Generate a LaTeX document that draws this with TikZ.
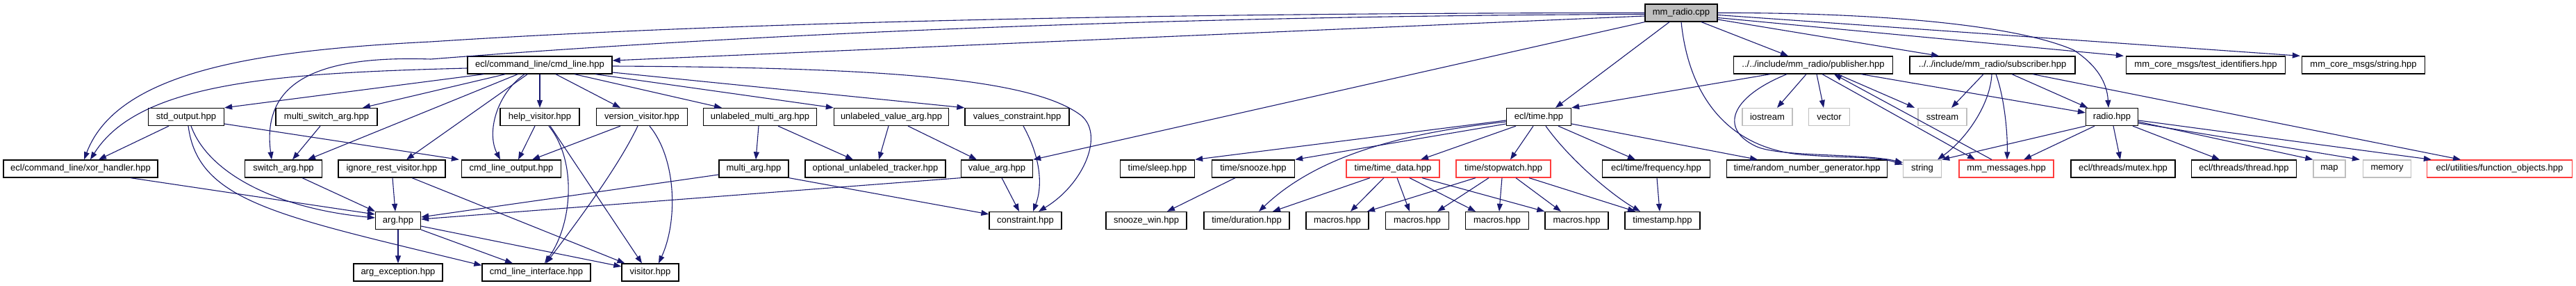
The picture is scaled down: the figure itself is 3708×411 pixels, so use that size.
\documentclass[tikz,border=0pt]{standalone}
\usepackage{fontspec}
\setmainfont{Liberation Sans}
\usetikzlibrary{arrows.meta,calc}
\definecolor{edgecol}{RGB}{25,25,112}
\definecolor{grayb}{RGB}{191,191,191}
\definecolor{redb}{RGB}{255,60,60}
\begin{document}
\begin{tikzpicture}[x=1pt,y=-1pt,
  base/.style={rectangle, line width=1.3pt, minimum height=25pt, inner sep=0pt, font=\fontsize{13}{15}\selectfont},
  box/.style={base, draw=black},
  sysbox/.style={base, draw=grayb},
  redbox/.style={base, draw=redb},
  rootbox/.style={base, draw=black, fill=grayb},
  edge/.style={draw=edgecol, line width=1.1pt, -{Triangle[length=11pt,width=8pt]}}]
\fill[white] (0,0) rectangle (3708,411);
\useasboundingbox (0,0) rectangle (3708,411);
% row 0
\node[rootbox, minimum width=104pt] (mmradio) at (2420,18.5) {mm\_radio.cpp};
% row 1
\node[box, minimum width=208pt] (cmdline) at (777,93.5) {ecl/command\_line/cmd\_line.hpp};
\node[box, minimum width=229pt] (publisher) at (2610,93.5) {../../include/mm\_radio/publisher.hpp};
\node[box, minimum width=238pt] (subscriber) at (2868,93.5) {../../include/mm\_radio/subscriber.hpp};
\node[box, minimum width=229pt] (testid) at (3175,93.5) {mm\_core\_msgs/test\_identifiers.hpp};
\node[box, minimum width=177pt] (mcstring) at (3402,93.5) {mm\_core\_msgs/string.hpp};
% row 2
\node[box, minimum width=109pt] (stdout) at (268,168) {std\_output.hpp};
\node[box, minimum width=146pt] (multiswitch) at (470,168) {multi\_switch\_arg.hpp};
\node[box, minimum width=114pt] (help) at (777,168) {help\_visitor.hpp};
\node[box, minimum width=131pt] (version) at (924,168) {version\_visitor.hpp};
\node[box, minimum width=163pt] (ulmulti) at (1094,168) {unlabeled\_multi\_arg.hpp};
\node[box, minimum width=165pt] (ulvalue) at (1283,168) {unlabeled\_value\_arg.hpp};
\node[box, minimum width=150pt] (valcons) at (1464,168) {values\_constraint.hpp};
\node[box, minimum width=93pt] (ecltime) at (2215,168) {ecl/time.hpp};
\node[sysbox, minimum width=72pt] (iostream) at (2544,168) {iostream};
\node[sysbox, minimum width=59pt] (vector) at (2633,168) {vector};
\node[sysbox, minimum width=70pt] (sstream) at (2796,168) {sstream};
\node[box, minimum width=75pt] (radio) at (3040,168) {radio.hpp};
% row 3
\node[box, minimum width=222pt] (xor) at (116,242.5) {ecl/command\_line/xor\_handler.hpp};
\node[box, minimum width=111pt] (switch) at (408,242.5) {switch\_arg.hpp};
\node[box, minimum width=154pt] (ignore) at (564,242.5) {ignore\_rest\_visitor.hpp};
\node[box, minimum width=143pt] (clout) at (736,242.5) {cmd\_line\_output.hpp};
\node[box, minimum width=100pt] (multiarg) at (1085,242.5) {multi\_arg.hpp};
\node[box, minimum width=202pt] (optunl) at (1260,242.5) {optional\_unlabeled\_tracker.hpp};
\node[box, minimum width=103pt] (valuearg) at (1435,242.5) {value\_arg.hpp};
\node[box, minimum width=107pt] (sleep) at (1666,242.5) {time/sleep.hpp};
\node[box, minimum width=119pt] (snooze) at (1804,242.5) {time/snooze.hpp};
\node[redbox, minimum width=134pt] (timedata) at (2005,242.5) {time/time\_data.hpp};
\node[redbox, minimum width=136pt] (stopwatch) at (2164,242.5) {time/stopwatch.hpp};
\node[box, minimum width=155pt] (freq) at (2384,242.5) {ecl/time/frequency.hpp};
\node[box, minimum width=231pt] (rng) at (2601,242.5) {time/random\_number\_generator.hpp};
\node[sysbox, minimum width=55pt] (string) at (2767,242.5) {string};
\node[redbox, minimum width=136pt] (mmmsg) at (2888,242.5) {mm\_messages.hpp};
\node[box, minimum width=150pt] (mutex) at (3056,242.5) {ecl/threads/mutex.hpp};
\node[box, minimum width=151pt] (thread) at (3230,242.5) {ecl/threads/thread.hpp};
\node[sysbox, minimum width=46pt] (map) at (3353,242.5) {map};
\node[sysbox, minimum width=69pt] (memory) at (3436,242.5) {memory};
\node[redbox, minimum width=209pt] (funcobj) at (3598,242.5) {ecl/utilities/function\_objects.hpp};
% row 4
\node[box, minimum width=65pt] (arg) at (573,317) {arg.hpp};
\node[box, minimum width=104pt] (constraint) at (1476,317) {constraint.hpp};
\node[box, minimum width=116pt] (snoozewin) at (1650,317) {snooze\_win.hpp};
\node[box, minimum width=123pt] (duration) at (1794.5,317) {time/duration.hpp};
\node[box, minimum width=90pt] (macrosa) at (1925,317) {macros.hpp};
\node[box, minimum width=91pt] (macrosb) at (2040,317) {macros.hpp};
\node[box, minimum width=91pt] (macrosc) at (2155,317) {macros.hpp};
\node[box, minimum width=91pt] (macrosd) at (2269.5,317) {macros.hpp};
\node[box, minimum width=108pt] (timestamp) at (2393,317) {timestamp.hpp};
% row 5
\node[box, minimum width=128pt] (argexc) at (573,391.5) {arg\_exception.hpp};
\node[box, minimum width=156pt] (clinterface) at (772,391.5) {cmd\_line\_interface.hpp};
\node[box, minimum width=82pt] (visitor) at (936,391.5) {visitor.hpp};

% mm_radio.cpp
\draw[edge] (mmradio.west) .. controls (1600,18.5) and (1000,35) .. (620,60) .. controls (380,72) and (170,100) .. ([xshift=5pt]xor.north);
\draw[edge] ([yshift=-2pt]mmradio.west) .. controls (1600,23) and (1000,55) .. (620,85) .. controls (470,80) and (375,110) .. ([xshift=-17pt]switch.north);
\draw[edge] ([yshift=-4.5pt]mmradio.west) -- ([yshift=6.5pt]cmdline.east);
\draw[edge] (mmradio.south west) -- (valuearg.north east);
\draw[edge] ([xshift=-17pt]mmradio.south) -- ([xshift=24pt]ecltime.north);
\draw[edge] ([xshift=29pt]mmradio.south) -- ([xshift=-36pt]publisher.north);
\draw[edge] ([yshift=-9.5pt]mmradio.east) -- ([xshift=-77pt]subscriber.north);
\draw[edge] ([yshift=-7pt]mmradio.east) -- ([xshift=-3pt]testid.north west);
\draw[edge] ([yshift=-3pt]mmradio.east) -- ([xshift=-2pt]mcstring.north west);
\draw[edge] (mmradio.east) .. controls (2700,18) and (2900,35) .. (2985,72) .. controls (3020,95) and (3033,120) .. ([xshift=-5pt]radio.north);
\draw[edge] (mmradio.south) .. controls (2430,130) and (2480,210) .. (2590,222) .. controls (2660,228) and (2700,224) .. ([yshift=6pt]string.west);

% cmd_line.hpp
\draw[edge] ([yshift=-4.5pt]cmdline.west) .. controls (400,105) and (200,118) .. ([xshift=14pt]xor.north);
\draw[edge] ([xshift=24pt]cmdline.south west) -- (stdout.north east);
\draw[edge] ([xshift=55pt]cmdline.south west) -- ([xshift=52pt]multiswitch.north);
\draw[edge] ([xshift=73pt]cmdline.south west) -- ([xshift=35pt]switch.north);
\draw[edge] ([xshift=87pt]cmdline.south west) -- ([xshift=21pt]ignore.north);
\draw[edge] ([xshift=-22pt]cmdline.south) .. controls (715,135) and (700,190) .. ([xshift=-16pt]clout.north);
\draw[edge] (cmdline.south) -- (help.north);
\draw[edge] ([xshift=23pt]cmdline.south) -- ([xshift=-31pt]version.north);
\draw[edge] ([xshift=50pt]cmdline.south) -- ([xshift=-55pt]ulmulti.north);
\draw[edge] ([xshift=80pt]cmdline.south) -- (ulvalue.north west);
\draw[edge] ([yshift=-10.5pt]cmdline.east) -- (valcons.north west);
\draw[edge] ([yshift=-1.5pt]cmdline.east) .. controls (1250,97) and (1480,110) .. (1555,165) .. controls (1591,192) and (1560,265) .. ([xshift=19pt]constraint.north);

% std_output.hpp
\draw[edge] ([xshift=-25pt]stdout.south) -- ([xshift=26pt]xor.north);
\draw[edge] ([yshift=-10pt]stdout.east) -- ([xshift=-3pt]clout.north west);
\draw[edge] ([xshift=7pt]stdout.south) .. controls (300,250) and (400,300) .. ([yshift=4pt]arg.west);
\draw[edge] ([xshift=3pt]stdout.south) .. controls (285,290) and (400,310) .. ([yshift=-3pt]clinterface.north west);
\draw[edge] ([xshift=72pt]xor.south) -- ([yshift=9pt]arg.west);
\draw[edge] ([xshift=-9pt]multiswitch.south) -- ([xshift=13pt]switch.north);
\draw[edge] ([xshift=27pt]switch.south) -- (arg.north west);
\draw[edge] ([xshift=1pt]ignore.south) -- ([xshift=-4pt]arg.north);
\draw[edge] ([xshift=29pt]ignore.south) -- ([xshift=5pt]visitor.north west);
\draw[edge] (arg.south) -- (argexc.north);
\draw[edge] (arg.south east) -- ([xshift=-34pt]clinterface.north);
\draw[edge] ([yshift=-8pt]arg.east) -- ([yshift=8.5pt]visitor.west);

% visitors
\draw[edge] ([xshift=-7pt]help.south) -- ([xshift=10pt]clout.north);
\draw[edge] ([xshift=13pt]help.south) .. controls (830,230) and (825,320) .. ([xshift=12pt]clinterface.north);
\draw[edge] ([xshift=15pt]help.south) -- ([xshift=-12pt]visitor.north);
\draw[edge] ([xshift=-31pt]version.south) -- ([xshift=30pt]clout.north);
\draw[edge] ([xshift=-6pt]version.south) .. controls (890,240) and (830,320) .. ([xshift=14pt]clinterface.north);
\draw[edge] ([xshift=11pt]version.south) .. controls (975,230) and (975,320) .. ([xshift=12pt]visitor.north);

% args
\draw[edge] ([xshift=-2pt]ulmulti.south) -- ([xshift=3pt]multiarg.north);
\draw[edge] ([xshift=26pt]ulmulti.south) -- ([xshift=-32pt]optunl.north);
\draw[edge] ([xshift=-4pt]ulvalue.south) -- ([xshift=5pt]optunl.north);
\draw[edge] ([xshift=24pt]ulvalue.south) -- ([xshift=-29pt]valuearg.north);
\draw[edge] ([xshift=9pt]valcons.south) .. controls (1500,230) and (1500,270) .. ([xshift=11pt]constraint.north);
\draw[edge] ([xshift=7pt]valuearg.south) -- ([xshift=-9pt]constraint.north);
\draw[edge] (valuearg.south west) -- ([yshift=2pt]arg.east);
\draw[edge] (multiarg.south east) -- ([yshift=-4pt]constraint.north west);
\draw[edge] ([yshift=-8.5pt]multiarg.west) -- ([yshift=5pt]arg.east);

% ecl/time.hpp
\draw[edge] ([yshift=-5pt]ecltime.west) -- (sleep.north east);
\draw[edge] ([yshift=-10pt]ecltime.west) -- (snooze.north east);
\draw[edge] ([yshift=-7pt]ecltime.west) .. controls (2030,190) and (1900,220) .. ([xshift=17.5pt]duration.north);
\draw[edge] ([xshift=-33pt]ecltime.south) -- ([xshift=40pt]timedata.north);
\draw[edge] ([xshift=-8pt]ecltime.south) -- ([xshift=10pt]stopwatch.north);
\draw[edge] ([xshift=10pt]ecltime.south) .. controls (2260,230) and (2320,280) .. ([xshift=-32pt]timestamp.north);
\draw[edge] ([xshift=28pt]ecltime.south) -- ([xshift=-30pt]freq.north);
\draw[edge] ([yshift=-10pt]ecltime.east) -- ([xshift=-71pt]rng.north);
\draw[edge] ([xshift=-26pt]snooze.south) -- ([xshift=30pt]snoozewin.north);
\draw[edge] ([xshift=-33pt]timedata.south) -- ([xshift=37.5pt]duration.north);
\draw[edge] ([xshift=-13pt]timedata.south) -- ([xshift=19pt]macrosa.north);
\draw[edge] ([xshift=6pt]timedata.south) -- ([xshift=-11pt]macrosb.north);
\draw[edge] ([xshift=24pt]timedata.south) -- ([xshift=-31pt]macrosc.north);
\draw[edge] ([xshift=42pt]timedata.south) -- (macrosd.north west);
\draw[edge] ([xshift=-40pt]stopwatch.south) -- ([xshift=43pt]macrosa.north);
\draw[edge] ([xshift=-21pt]stopwatch.south) -- ([xshift=29pt]macrosb.north);
\draw[edge] ([xshift=-2pt]stopwatch.south) -- ([xshift=3pt]macrosc.north);
\draw[edge] ([xshift=18pt]stopwatch.south) -- ([xshift=-22.5pt]macrosd.north);
\draw[edge] ([xshift=37pt]stopwatch.south) -- ([xshift=-39pt]timestamp.north);
\draw[edge] ([xshift=1pt]freq.south) -- ([xshift=-4pt]timestamp.north);

% publisher.hpp
\draw[edge] ([xshift=-62pt]publisher.south) -- (ecltime.north east);
\draw[edge] ([xshift=-38pt]publisher.south) .. controls (2490,140) and (2475,185) .. (2527,210) .. controls (2560,226) and (2680,220) .. ([yshift=9pt]string.west);
\draw[edge] ([xshift=-10pt]publisher.south) -- ([xshift=14pt]iostream.north);
\draw[edge] ([xshift=5pt]publisher.south) -- ([xshift=-8pt]vector.north);
\draw[edge] ([xshift=35pt]publisher.south) -- ([xshift=-40pt]sstream.north);
\draw[edge] ([xshift=13pt]publisher.south) -- ([xshift=-45pt]mmmsg.north);
\draw[edge] ([xshift=-21pt]mmmsg.north) -- ([xshift=30pt]publisher.south);
\draw[edge] ([xshift=69pt]publisher.south) -- ([yshift=6pt]radio.west);

% subscriber.hpp
\draw[edge] ([xshift=-13pt]subscriber.south) -- ([xshift=13pt]sstream.north);
\draw[edge] ([xshift=-1pt]subscriber.south) .. controls (2865,150) and (2830,200) .. ([xshift=22pt]string.north);
\draw[edge] ([xshift=5pt]subscriber.south) .. controls (2885,140) and (2890,190) .. ([xshift=1pt]mmmsg.north);
\draw[edge] ([xshift=28pt]subscriber.south) -- ([xshift=-35pt]radio.north);
\draw[edge] ([xshift=58pt]subscriber.south) -- ([xshift=-56pt]funcobj.north);

% radio.hpp
\draw[edge] (radio.south west) -- (string.north east);
\draw[edge] ([xshift=-25pt]radio.south) -- ([xshift=25pt]mmmsg.north);
\draw[edge] ([xshift=2pt]radio.south) -- ([xshift=-4pt]mutex.north);
\draw[edge] ([xshift=30pt]radio.south) -- ([xshift=-35pt]thread.north);
\draw[edge] ([yshift=-7pt]radio.east) -- (map.north west);
\draw[edge] ([yshift=-9pt]radio.east) -- ([xshift=-4pt]memory.north west);
\draw[edge] ([yshift=-5pt]radio.east) -- ([xshift=7pt]funcobj.north west);
\end{tikzpicture}
\end{document}
